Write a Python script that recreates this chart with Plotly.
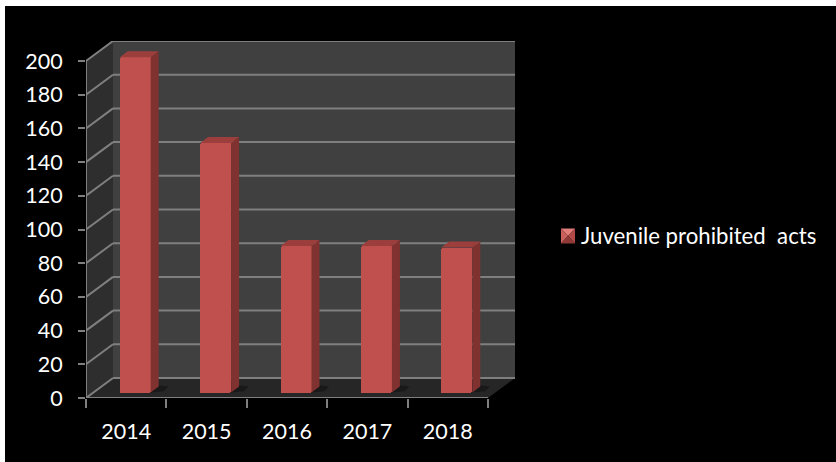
import plotly.graph_objects as go

years = ["2014", "2015", "2016", "2017", "2018"]
values = [199, 148, 87, 87, 86]
y_ticks = [0, 20, 40, 60, 80, 100, 120, 140, 160, 180, 200]
series_name = "Juvenile prohibited\u00a0 acts"

FONT = "Lato"
W, H = 836, 462
L, R_EDGE, T, B_EDGE = 86, 515, 41, 398
PX_X = 80.4          # pixels per category
PX_Y = 337 / 200     # pixels per value unit

wall_dx, wall_dy = 27 / PX_X, 20 / PX_Y
bar_w = 31 / PX_X
bar_shift = 9 / PX_X
bar_base = 5.5 / PX_Y
side_dx, side_dy = 8 / PX_X, 6 / PX_Y

FRONT = "#c0504d"
SIDE = "#7f322f"
TOP = "#9c3f3c"
BACK = "#404040"
LEFT = "#2e2e2e"
FLOOR = "#262626"
GRID = "#7f7f7f"

x0, x1 = -0.5, len(years) - 0.5
xs = list(range(len(years)))
shapes = []


def px_x(p):
    return (p - L) / (R_EDGE - L)


def px_y(p):
    return (B_EDGE - p) / (B_EDGE - T)


def poly(points, color, layer="below"):
    path = "M" + "L".join(f"{a},{b}" for a, b in points) + "Z"
    return dict(type="path", path=path, xref="x", yref="y", fillcolor=color,
                line=dict(width=0), layer=layer)


# black picture area with a thin white strip top and left
shapes.append(dict(type="rect", xref="paper", yref="paper", layer="below",
                   x0=px_x(5), x1=px_x(W), y0=px_y(H), y1=px_y(6),
                   fillcolor="black", line=dict(width=0)))

ymax = y_ticks[-1]
shapes.append(poly([(x0 + wall_dx, wall_dy), (x1 + wall_dx, wall_dy),
                    (x1 + wall_dx, ymax + wall_dy), (x0 + wall_dx, ymax + wall_dy)], BACK))
shapes.append(poly([(x0, 0), (x0 + wall_dx, wall_dy), (x0 + wall_dx, ymax + wall_dy), (x0, ymax)], LEFT))
shapes.append(poly([(x0, 0), (x1, 0), (x1 + wall_dx, wall_dy), (x0 + wall_dx, wall_dy)], FLOOR))

for t in y_ticks:
    # back-wall gridline and its diagonal on the side wall
    shapes.append(dict(type="line", xref="x", yref="y", layer="below",
                       x0=x0 + wall_dx, x1=x1 + wall_dx, y0=t + wall_dy, y1=t + wall_dy,
                       line=dict(color=GRID, width=2)))
    shapes.append(dict(type="line", xref="x", yref="y", layer="below",
                       x0=x0, x1=x0 + wall_dx, y0=t, y1=t + wall_dy,
                       line=dict(color=GRID, width=2)))

# soft shadows on the floor beside each bar
for i in xs:
    c = i + bar_shift
    r = c + bar_w / 2
    shapes.append(poly([(r, bar_base), (r + 1.6 * side_dx, bar_base + side_dy * 0.2),
                        (r + 2.2 * side_dx, bar_base + side_dy * 1.0),
                        (r + side_dx, bar_base + side_dy * 1.2)], "#191919"))

# legend swatch, shaded like a small pyramid
sx0, sx1, sy0, sy1 = px_x(561), px_x(575), px_y(243.5), px_y(228.5)
sxc, syc = (sx0 + sx1) / 2, (sy0 + sy1) / 2
for pts, col in [
    ([(sx0, sy1), (sx1, sy1), (sxc, syc)], "#e07d79"),
    ([(sx0, sy0), (sx0, sy1), (sxc, syc)], "#c9605c"),
    ([(sx1, sy0), (sx1, sy1), (sxc, syc)], "#b24a47"),
    ([(sx0, sy0), (sx1, sy0), (sxc, syc)], "#8f3a37"),
]:
    path = "M" + "L".join(f"{a},{b}" for a, b in pts) + "Z"
    shapes.append(dict(type="path", path=path, xref="paper", yref="paper", layer="above",
                       fillcolor=col, line=dict(width=0)))

fig = go.Figure()

fig.add_trace(go.Bar(
    x=[i + bar_shift for i in xs], y=values, base=[bar_base] * len(values),
    width=bar_w, marker=dict(color=FRONT, cornerradius=2, line=dict(width=0)),
    showlegend=False, hoverinfo="skip",
))

for i, v in zip(xs, values):
    c = i + bar_shift
    left, right = c - bar_w / 2, c + bar_w / 2
    top = bar_base + v
    fig.add_trace(go.Scatter(
        x=[right, right + side_dx, right + side_dx, right, right],
        y=[bar_base, bar_base + side_dy, top + side_dy, top, bar_base],
        mode="lines", fill="toself", fillcolor=SIDE, line=dict(width=0, color=SIDE),
        showlegend=False, hoverinfo="skip"))
    fig.add_trace(go.Scatter(
        x=[left, right, right + side_dx, left + side_dx, left],
        y=[top, top, top + side_dy, top + side_dy, top],
        mode="lines", fill="toself", fillcolor=TOP, line=dict(width=0, color=TOP),
        showlegend=False, hoverinfo="skip"))

# front axis lines, only as long as the front edge of the box
fig.add_trace(go.Scatter(x=[x0, x0, x1], y=[ymax, 0, 0], mode="lines", cliponaxis=False,
                         line=dict(color=GRID, width=2), showlegend=False, hoverinfo="skip"))

# legend entry (its swatch is the shaded shape above)
fig.add_trace(go.Scatter(x=[None], y=[None], mode="markers", name=series_name,
                         marker=dict(symbol="square", size=14, color="rgba(0,0,0,0)")))

fig.update_layout(
    width=W, height=H,
    margin=dict(l=L, r=W - R_EDGE, t=T, b=H - B_EDGE, pad=0),
    paper_bgcolor="white", plot_bgcolor="rgba(0,0,0,0)",
    shapes=shapes, bargap=0,
    font=dict(family=FONT, color="white", size=21.5),
    legend=dict(x=px_x(541), y=px_y(235), xanchor="left", yanchor="middle",
                bgcolor="rgba(0,0,0,0)",
                font=dict(family=FONT, color="white", size=22.2)),
    xaxis=dict(range=[x0, x1 + wall_dx], tickmode="array", tickvals=xs, ticktext=years,
               showgrid=False, zeroline=False, showline=False, ticks="", ticklabelstandoff=18,
               minor=dict(tick0=-0.5, dtick=1, ticks="outside", ticklen=9, tickwidth=2,
                          tickcolor=GRID, showgrid=False),
               tickfont=dict(family=FONT, color="white", size=21.5)),
    yaxis=dict(range=[0, ymax + wall_dy], tickmode="array", tickvals=y_ticks,
               showgrid=False, zeroline=False, showline=False, ticks="outside", ticklen=7,
               tickwidth=2, tickcolor=GRID, ticklabelstandoff=11,
               tickfont=dict(family=FONT, color="white", size=21.5)),
)

fig.write_html("out.html", config=dict(displayModeBar=False),
               post_script="document.body.style.margin='0';document.body.style.overflow='hidden';")
